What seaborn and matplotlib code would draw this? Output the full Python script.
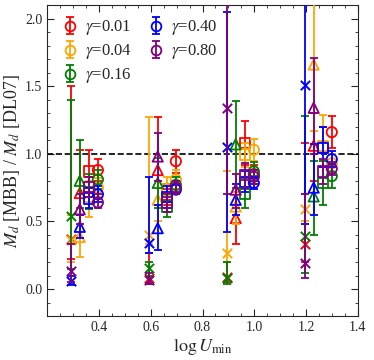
import numpy as np
import matplotlib
matplotlib.use("Agg")
import matplotlib.pyplot as plt
from matplotlib.ticker import MultipleLocator
import seaborn as sns

# grupos em log U_min e deslocamento de cada tipo de simbolo
log_umin = np.log10([2, 4, 8, 16])
marcadores = ["x", "^", "s", "o"]
desloc = [-0.01, 0.025, 0.06, 0.095]

gammas = ["0.01", "0.04", "0.16", "0.40", "0.80"]
cores = ["red", "orange", "green", "blue", "purple"]

# valores por gamma: grupo1 (x, ^, s, o), grupo2, grupo3, grupo4
val_001 = [0.37, 0.71, 0.87, 0.88, 0.08, 0.88, 0.70, 0.945, 0.09, 0.525, 1.08, 0.85, 0.335, 1.06, 1.05, 1.16]
lo_001 = [0.22, 0.55, 0.72, 0.80, 0.04, 0.62, 0.62, 0.86, 0.05, 0.33, 0.92, 0.78, 0.20, 0.80, 0.90, 1.04]
hi_001 = [1.50, 1.03, 1.03, 0.96, 0.27, 1.27, 0.78, 1.03, 0.20, 0.72, 1.24, 0.92, 1.08, 1.30, 1.20, 1.28]

val_004 = [0.36, 0.385, 0.68, 0.75, 0.40, 0.66, 0.735, 0.81, 0.27, 0.61, 0.995, 1.03, 0.59, 1.66, 1.06, 0.93]
lo_004 = [0.20, 0.24, 0.53, 0.68, 0.33, 0.50, 0.64, 0.74, 0.20, 0.48, 0.90, 0.95, 0.50, 1.17, 0.95, 0.86]
hi_004 = [0.55, 0.55, 0.80, 0.82, 1.27, 0.80, 0.83, 0.88, 0.87, 0.72, 1.08, 1.11, 0.70, 2.30, 1.29, 1.00]

val_016 = [0.54, 0.80, 0.72, 0.81, 0.155, 0.785, 0.61, 0.77, 0.085, 1.07, 0.705, 0.87, 0.39, 0.685, 0.785, 0.835]
lo_016 = [0.15, 0.60, 0.59, 0.74, 0.10, 0.60, 0.53, 0.72, 0.04, 0.75, 0.60, 0.80, 0.12, 0.40, 0.625, 0.75]
hi_016 = [1.40, 1.10, 0.85, 0.88, 0.20, 0.97, 0.70, 0.83, 0.20, 1.39, 0.82, 0.94, 1.28, 0.95, 0.95, 0.92]

val_040 = [0.06, 0.46, 0.67, 0.70, 0.34, 0.45, 0.68, 0.735, 1.05, 0.66, 0.79, 0.785, 1.51, 0.75, 1.045, 0.96]
lo_040 = [0.03, 0.38, 0.60, 0.64, 0.27, 0.29, 0.60, 0.70, 0.42, 0.55, 0.72, 0.74, 0.48, 0.55, 0.90, 0.90]
hi_040 = [0.10, 0.55, 0.75, 0.76, 0.83, 0.62, 0.76, 0.78, 2.05, 0.78, 0.87, 0.83, 2.30, 1.07, 1.20, 1.02]

val_080 = [0.13, 0.59, 0.755, 0.64, 0.07, 0.98, 0.64, 0.75, 1.34, 0.735, 0.845, 0.83, 0.19, 1.34, 0.87, 0.89]
lo_080 = [0.05, 0.48, 0.68, 0.60, 0.04, 0.80, 0.57, 0.70, 0.70, 0.60, 0.75, 0.78, 0.08, 1.00, 0.78, 0.84]
hi_080 = [0.33, 0.70, 0.83, 0.70, 0.12, 1.155, 0.71, 0.80, 2.30, 0.85, 0.93, 0.88, 0.70, 1.71, 0.96, 0.94]

valores = [val_001, val_004, val_016, val_040, val_080]
inferiores = [lo_001, lo_004, lo_016, lo_040, lo_080]
superiores = [hi_001, hi_004, hi_016, hi_040, hi_080]

sns.set_style("ticks")
plt.rcParams["font.family"] = ["Liberation Serif", "DejaVu Serif"]
plt.rcParams["mathtext.fontset"] = "stix"
plt.rcParams["xtick.direction"] = "in"
plt.rcParams["ytick.direction"] = "in"

fig = plt.figure(figsize=(3.74, 3.6), dpi=100)
ax = fig.add_axes([0.126, 0.122, 0.831, 0.864])

for i, (g, c) in enumerate(zip(gammas, cores)):
    v = np.array(valores[i]).reshape(4, 4)
    lo = np.array(inferiores[i]).reshape(4, 4)
    hi = np.array(superiores[i]).reshape(4, 4)
    for k, m in enumerate(marcadores):
        xs = log_umin + desloc[k]
        ys = v[:, k]
        ax.errorbar(xs, ys, yerr=[ys - lo[:, k], hi[:, k] - ys], fmt="none",
                    ecolor=c, elinewidth=1.3, capsize=3, capthick=1.3, zorder=2 + 2 * i)
        if m == "x":
            sns.scatterplot(x=xs, y=ys, marker="x", s=45, color=c, linewidth=1.4,
                            ax=ax, zorder=3 + 2 * i, legend=False)
        else:
            sns.scatterplot(x=xs, y=ys, marker=m, s=55, facecolors="none", edgecolor=c,
                            linewidth=1.3, ax=ax, zorder=3 + 2 * i, legend=False)
    # entrada da legenda
    ax.errorbar([np.nan], [np.nan], yerr=[0.1], fmt="o", mfc="none", mec=c, ecolor=c,
                ms=7, mew=1.3, elinewidth=1.3, capsize=3, capthick=1.3,
                label=r"$\gamma$=" + g)

ax.axhline(1.0, color="black", ls="--", lw=1.2, zorder=1)

ax.set_xlim(0.2, 1.4)
ax.set_ylim(-0.2, 2.1)
ax.xaxis.set_major_locator(MultipleLocator(0.2))
ax.xaxis.set_minor_locator(MultipleLocator(0.05))
ax.yaxis.set_major_locator(MultipleLocator(0.5))
ax.yaxis.set_minor_locator(MultipleLocator(0.1))
ax.tick_params(which="both", top=True, right=True, labelsize=10)
ax.tick_params(which="major", length=5)
ax.tick_params(which="minor", length=2.5)
ax.set_xticks([0.4, 0.6, 0.8, 1.0, 1.2, 1.4])

ax.set_xlabel(r"$\log U_{\rm min}$", fontsize=13, labelpad=2)
ax.set_ylabel(r"$M_d$ [MBB] / $M_d$ [DL07]", fontsize=13, labelpad=2)

ax.legend(loc="upper left", ncol=2, frameon=False, fontsize=12,
          handletextpad=0.3, columnspacing=0.8, labelspacing=0.3,
          borderaxespad=0.4, handlelength=1.2)

plt.savefig("out.png", dpi=100)
